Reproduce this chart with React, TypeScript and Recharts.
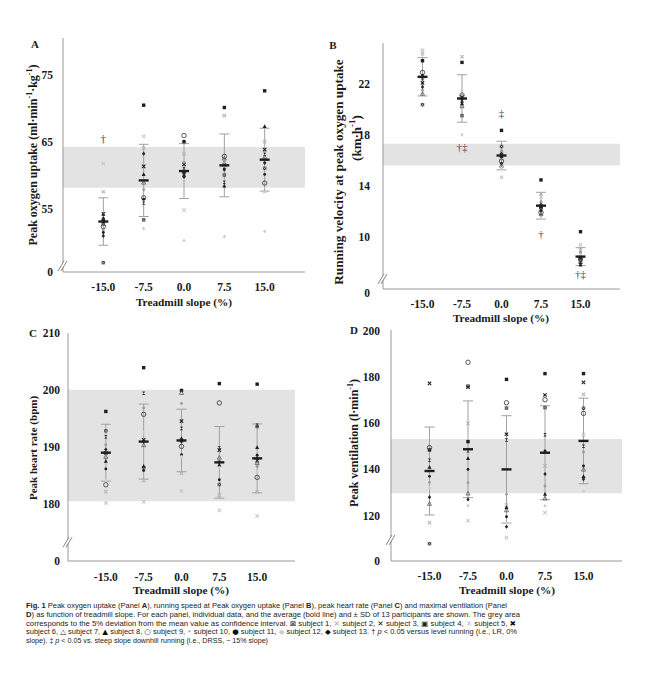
import React from "react";
import {
  ScatterChart,
  Scatter,
  XAxis,
  YAxis,
  ReferenceArea,
  ReferenceDot,
  ErrorBar,
} from "recharts";

const slopeLabels = ["-15.0", "-7.5", "0.0", "7.5", "15.0"];
const slopeIndex = [0, 1, 2, 3, 4];

// one row per subject (1..13), one column per slope
const vo2Subjects = [
  [47.0, 53.4, 60.4, 60.1, 61.1],
  [57.6, 64.15, 63.25, 69.0, 65.1],
  [54.3, 61.4, 61.7, 61.6, 63.9],
  [53.4, 70.55, 65.1, 70.2, 72.7],
  [61.8, 65.9, 54.85, 61.3, 57.6],
  [53.9, 55.9, 61.0, 59.0, 63.2],
  [52.8, 59.0, 60.8, 62.6, 62.8],
  [53.1, 60.2, 60.1, 58.5, 67.4],
  [52.4, 56.7, 66.0, 62.9, 58.9],
  [51.9, 57.9, 62.0, 62.1, 62.0],
  [51.5, 56.5, 59.8, 61.0, 60.2],
  [65.0, 52.1, 50.3, 50.9, 51.7],
  [51.0, 63.3, 60.5, 60.9, 61.9],
];
const vo2Mean = [53.15, 59.3, 60.7, 61.55, 62.4];
const vo2Sd = [3.55, 5.4, 4.1, 4.7, 4.7];
const vo2Band = [58.2, 64.3];
const vo2Ticks = [45.6, 55, 65, 75];
const vo2Top = 80.6;
const vo2Break = 46.5;
const vo2Notes = [{ x: 0, y: 65.57, t: "†" }];

const speedSubjects = [
  [20.41, 19.55, 17.13, 12.3, 8.2],
  [24.47, 24.16, 16.2, 13.41, 9.0],
  [22.11, 21.0, 16.5, 12.45, 8.4],
  [23.85, 23.72, 18.39, 14.51, 10.45],
  [24.69, 20.67, 14.72, 13.2, 9.42],
  [22.46, 20.8, 16.6, 12.6, 8.5],
  [21.28, 20.3, 15.64, 11.84, 8.1],
  [22.59, 20.49, 16.4, 12.4, 7.85],
  [22.93, 21.15, 15.98, 11.96, 8.3],
  [21.54, 21.3, 16.8, 12.8, 8.8],
  [22.7, 20.89, 16.3, 12.1, 8.45],
  [24.29, 18.05, 15.4, 11.49, 8.6],
  [21.8, 20.6, 15.8, 12.5, 7.95],
];
const speedMean = [22.59, 20.89, 16.42, 12.49, 8.5];
const speedSd = [1.5, 1.86, 1.12, 1.05, 0.7];
const speedBand = [15.64, 17.35];
const speedTicks = [5.96, 10, 14, 18, 22];
const speedTop = 25.24;
const speedBreak = 6.75;
const speedNotes = [
  { x: 1, y: 17.1, t: "†‡" },
  { x: 2, y: 19.79, t: "‡" },
  { x: 3, y: 10.26, t: "†" },
  { x: 4, y: 7.12, t: "†‡" },
];

const hrSubjects = [
  [192.8, 186.3, 191.1, 183.35, 193.55],
  [182.1, 184.05, 185.3, 181.5, 182.0],
  [188.9, 191.2, 194.5, 189.4, 187.55],
  [196.2, 203.9, 199.9, 201.1, 201.0],
  [180.1, 180.3, 182.2, 178.8, 177.8],
  [191.75, 199.4, 193.2, 189.8, 193.8],
  [188.25, 190.3, 199.5, 188.1, 187.15],
  [187.5, 186.6, 191.5, 186.8, 189.9],
  [183.3, 195.7, 190.05, 197.7, 184.6],
  [190.35, 196.8, 197.6, 187.6, 186.5],
  [186.1, 185.8, 188.6, 184.2, 188.5],
  [184.05, 192.5, 188.25, 186.3, 185.5],
  [189.5, 190.9, 190.9, 187.25, 187.95],
];
const hrMean = [188.95, 190.9, 191.1, 187.25, 187.95];
const hrSd = [5.0, 6.6, 5.5, 6.3, 6.05];
const hrBand = [180.4, 200];
const hrTicks = [169.9, 180, 190, 200, 210];
const hrTop = 210;
const hrBreak = 173.2;

const veSubjects = [
  [107.9, 176.0, 166.5, 166.7, 166.4],
  [117.0, 159.9, 124.6, 141.5, 172.45],
  [177.2, 175.5, 155.2, 172.15, 177.6],
  [148.4, 152.0, 178.9, 181.4, 181.4],
  [139.5, 117.8, 110.5, 121.3, 155.0],
  [144.0, 148.0, 152.7, 155.0, 150.0],
  [125.2, 129.65, 122.4, 127.5, 140.0],
  [141.0, 144.8, 123.6, 129.35, 137.0],
  [149.4, 186.3, 168.8, 170.1, 164.2],
  [134.4, 134.2, 129.2, 132.8, 147.5],
  [137.0, 140.0, 119.5, 148.0, 141.45],
  [132.0, 124.3, 116.7, 124.3, 130.6],
  [128.0, 127.0, 115.2, 138.0, 135.8],
];
const veMean = [139.3, 148.7, 140.0, 147.2, 152.3];
const veSd = [19.0, 20.9, 23.2, 20.3, 18.5];
const veBand = [129.65, 153.1];
const veTicks = [100.4, 120, 140, 160, 180, 200];
const veTop = 200.25;
const veBreak = 109.5;

const serif = "'Liberation Serif', 'Times New Roman', serif";
const sans = "'Liberation Sans', Arial, sans-serif";
const ink = "#1a1a1a";

// marker per subject, same order as the rows above
const markStyles = [
  { kind: "boxx", color: "#3a3a3a" },
  { kind: "cross", color: "#b5b5b5" },
  { kind: "cross", color: "#1f1f1f" },
  { kind: "box", color: "#1f1f1f" },
  { kind: "cross", color: "#c8c8c8" },
  { kind: "hourglass", color: "#2a2a2a" },
  { kind: "tri", color: "#5a5a5a" },
  { kind: "trifill", color: "#1f1f1f" },
  { kind: "ring", color: "#444" },
  { kind: "dot", color: "#9c9c9c" },
  { kind: "dot", color: "#1f1f1f" },
  { kind: "diamond", color: "#cfcfcf" },
  { kind: "diamond", color: "#262626" },
];

function Mark({ kind, color, cx, cy, r }: any) {
  switch (kind) {
    case "box":
      return <rect x={cx - r} y={cy - r} width={2 * r} height={2 * r} fill={color} />;
    case "boxx":
      return (
        <g>
          <rect x={cx - r} y={cy - r} width={2 * r} height={2 * r} fill={color} />
          <path
            d={`M${cx - r},${cy - r}L${cx + r},${cy + r}M${cx + r},${cy - r}L${cx - r},${cy + r}`}
            stroke="#ddd"
            strokeWidth={0.5}
          />
        </g>
      );
    case "cross":
      return (
        <path
          d={`M${cx - r},${cy - r}L${cx + r},${cy + r}M${cx + r},${cy - r}L${cx - r},${cy + r}`}
          stroke={color}
          strokeWidth={1.1}
        />
      );
    case "hourglass":
      return (
        <path
          d={`M${cx - r},${cy - r}L${cx + r},${cy - r}L${cx - r},${cy + r}L${cx + r},${cy + r}Z`}
          fill={color}
        />
      );
    case "tri":
      return (
        <path
          d={`M${cx},${cy - r * 1.2}L${cx + r * 1.2},${cy + r}L${cx - r * 1.2},${cy + r}Z`}
          fill="none"
          stroke={color}
          strokeWidth={0.8}
        />
      );
    case "trifill":
      return (
        <path
          d={`M${cx},${cy - r * 1.2}L${cx + r * 1.2},${cy + r}L${cx - r * 1.2},${cy + r}Z`}
          fill={color}
        />
      );
    case "ring":
      return <circle cx={cx} cy={cy} r={r * 1.3} fill="none" stroke={color} strokeWidth={0.9} />;
    case "dot":
      return <circle cx={cx} cy={cy} r={r * 0.85} fill={color} />;
    default:
      return (
        <path
          d={`M${cx},${cy - r * 1.2}L${cx + r},${cy}L${cx},${cy + r * 1.2}L${cx - r},${cy}Z`}
          fill={color}
        />
      );
  }
}

function BreakMark({ cx, cy }: any) {
  return (
    <g>
      <path d={`M${cx - 5},${cy + 5}L${cx + 1},${cy - 5}L${cx + 4},${cy - 5}L${cx - 2},${cy + 5}Z`} fill="#fff" />
      <path
        d={`M${cx - 5},${cy + 5}L${cx + 1},${cy - 5}M${cx - 2},${cy + 5}L${cx + 4},${cy - 5}`}
        stroke="#777"
        strokeWidth={0.9}
      />
    </g>
  );
}

type Box = { left: number; right: number; top: number; bottom: number; yw: number; yGap: number; xGap: number; zeroDy: number };

function Panel({ subjects, mean, sd, band, ticks, top, brk, notes, box }: any) {
  const b: Box = box;
  const points = subjects.flatMap((row: number[], s: number) =>
    row.map((v, i) => ({ x: slopeIndex[i], y: v, s }))
  );
  const means = mean.map((m: number, i: number) => ({ x: slopeIndex[i], y: m, sd: sd[i] }));
  const tickStyle = { fill: ink, fontSize: 11.5, fontWeight: 700, fontFamily: serif };
  const YTick = (p: any) => {
    const isZero = p.payload.value === ticks[0];
    return (
      <text {...tickStyle} x={p.x} y={p.y + (isZero ? b.zeroDy : 0)} textAnchor="end" dominantBaseline="central">
        {isZero ? "0" : String(p.payload.value)}
      </text>
    );
  };
  return (
    <div style={{ position: "absolute", left: 0, top: 0 }}>
      <ScatterChart
        width={650}
        height={676}
        margin={{ top: b.top, left: b.left - b.yw, right: 650 - b.right, bottom: 676 - b.bottom - 30 }}
      >
        <XAxis
          type="number"
          dataKey="x"
          domain={[-1, 5]}
          ticks={slopeIndex}
          tickFormatter={(i: number) => slopeLabels[i]}
          interval={0}
          tickLine={false}
          tickSize={0}
          tickMargin={b.xGap}
          height={30}
          axisLine={{ stroke: "#999" }}
          tick={tickStyle}
        />
        <YAxis
          type="number"
          dataKey="y"
          domain={[ticks[0], top]}
          ticks={ticks}
          interval={0}
          width={b.yw}
          tickLine={false}
          tickSize={0}
          tickMargin={b.yGap}
          axisLine={{ stroke: "#999" }}
          tick={YTick}
        />
        <ReferenceArea y1={band[0]} y2={band[1]} fill="#e3e3e3" fillOpacity={1} stroke="none" ifOverflow="visible" />
        <Scatter data={means} isAnimationActive={false} shape={() => <g />}>
          <ErrorBar dataKey="sd" direction="y" width={5} stroke="#a0a0a0" strokeWidth={1} isAnimationActive={false} />
        </Scatter>
        <Scatter
          data={points}
          isAnimationActive={false}
          shape={(p: any) => <Mark {...markStyles[p.payload.s]} cx={p.cx} cy={p.cy} r={1.7} />}
        />
        <Scatter
          data={means}
          isAnimationActive={false}
          shape={(p: any) => <rect x={p.cx - 5} y={p.cy - 1.2} width={10} height={2.4} fill="#1e1e1e" />}
        />
        {notes && (
          <Scatter
            data={notes}
            isAnimationActive={false}
            shape={(p: any) => (
              <text
                x={p.cx}
                y={p.cy}
                textAnchor="middle"
                dominantBaseline="central"
                fontSize={11}
                fontFamily={serif}
                fill="#444"
              >
                {p.payload.t}
              </text>
            )}
          />
        )}
        <ReferenceDot x={-1} y={brk} ifOverflow="visible" shape={(p: any) => <BreakMark cx={p.cx} cy={p.cy} />} />
      </ScatterChart>
    </div>
  );
}

function VTitle({ x, y, size, children }: any) {
  return (
    <text
      transform={`translate(${x},${y}) rotate(-90)`}
      textAnchor="middle"
      dominantBaseline="central"
      fontFamily={serif}
      fontWeight={700}
      fontSize={size}
      fill={ink}
    >
      {children}
    </text>
  );
}

function HTitle({ x, y, size = 11.3, children }: any) {
  return (
    <text x={x} y={y} textAnchor="middle" dominantBaseline="central" fontFamily={serif} fontWeight={700} fontSize={size} fill={ink}>
      {children}
    </text>
  );
}

const sym = { fontFamily: "'DejaVu Sans', sans-serif" };

export default function App() {
  return (
    <div style={{ position: "absolute", left: 0, top: 0, width: 650, height: 676, background: "#fff", overflow: "hidden" }}>
      <Panel
        subjects={vo2Subjects}
        mean={vo2Mean}
        sd={vo2Sd}
        band={vo2Band}
        ticks={vo2Ticks}
        top={vo2Top}
        brk={vo2Break}
        notes={vo2Notes}
        box={{ left: 63, right: 305, top: 38, bottom: 272, yw: 63, yGap: 10, xGap: 11, zeroDy: 0 }}
      />
      <Panel
        subjects={speedSubjects}
        mean={speedMean}
        sd={speedSd}
        band={speedBand}
        ticks={speedTicks}
        top={speedTop}
        brk={speedBreak}
        notes={speedNotes}
        box={{ left: 383, right: 620, top: 43, bottom: 289, yw: 63, yGap: 13, xGap: 11, zeroDy: 4 }}
      />
      <Panel
        subjects={hrSubjects}
        mean={hrMean}
        sd={hrSd}
        band={hrBand}
        ticks={hrTicks}
        top={hrTop}
        brk={hrBreak}
        box={{ left: 68, right: 295, top: 333, bottom: 561, yw: 68, yGap: 8, xGap: 12, zeroDy: 0 }}
      />
      <Panel
        subjects={veSubjects}
        mean={veMean}
        sd={veSd}
        band={veBand}
        ticks={veTicks}
        top={veTop}
        brk={veBreak}
        box={{ left: 391, right: 622, top: 330, bottom: 561, yw: 71, yGap: 11, xGap: 11, zeroDy: 0 }}
      />
      <svg width={650} height={676} style={{ position: "absolute", left: 0, top: 0, pointerEvents: "none" }}>
        <HTitle x={35} y={44} size={11}>A</HTitle>
        <HTitle x={333} y={45} size={11}>B</HTitle>
        <HTitle x={33} y={333} size={11}>C</HTitle>
        <HTitle x={354} y={330} size={11}>D</HTitle>

        <VTitle x={33} y={155} size={12}>
          Peak oxygen uptake (ml·min<tspan dy={-4} fontSize={8}>-1</tspan>
          <tspan dy={4}>·kg</tspan>
          <tspan dy={-4} fontSize={8}>-1</tspan>
          <tspan dy={4}>)</tspan>
        </VTitle>
        <VTitle x={338} y={172} size={13.2}>Running velocity at peak oxygen uptake</VTitle>
        <VTitle x={356} y={138} size={13}>
          (km·h<tspan dy={-4} fontSize={9}>-1</tspan>
          <tspan dy={4}>)</tspan>
        </VTitle>
        <VTitle x={33} y={448} size={11}>Peak heart rate (bpm)</VTitle>
        <VTitle x={354} y={443} size={12}>
          Peak ventilation (l·min<tspan dy={-4} fontSize={8}>-1</tspan>
          <tspan dy={4}>)</tspan>
        </VTitle>

        <HTitle x={184} y={302}>Treadmill slope (%)</HTitle>
        <HTitle x={501} y={318}>Treadmill slope (%)</HTitle>
        <HTitle x={181} y={590}>Treadmill slope (%)</HTitle>
        <HTitle x={507} y={590}>Treadmill slope (%)</HTitle>

        <g fontFamily={sans} fontSize={7.2} fill="#222">
          <text x={26} y={608} textLength={481} lengthAdjust="spacingAndGlyphs">
            <tspan fontWeight={700}>Fig. 1</tspan> Peak oxygen uptake (Panel <tspan fontWeight={700}>A</tspan>), running
            speed at Peak oxygen uptake (Panel <tspan fontWeight={700}>B</tspan>), peak heart rate (Panel{" "}
            <tspan fontWeight={700}>C</tspan>) and maximal ventilation (Panel
          </text>
          <text x={26} y={617} textLength={494} lengthAdjust="spacingAndGlyphs">
            <tspan fontWeight={700}>D</tspan>) as function of treadmill slope. For each panel, individual data, and the
            average (bold line) and ± SD of 13 participants are shown. The grey area
          </text>
          <text x={26} y={625.5} textLength={490} lengthAdjust="spacingAndGlyphs">
            corresponds to the 5% deviation from the mean value as confidence interval.{" "}
            <tspan {...sym} fill="#222">⊠</tspan> subject 1, <tspan {...sym} fill="#aaa">✕</tspan> subject 2,{" "}
            <tspan {...sym} fill="#111">✕</tspan> subject 3, <tspan {...sym} fill="#222">▣</tspan> subject 4,{" "}
            <tspan {...sym} fill="#bbb">✕</tspan> subject 5, <tspan {...sym} fill="#111">✖</tspan>
          </text>
          <text x={26} y={634} textLength={491} lengthAdjust="spacingAndGlyphs">
            subject 6, <tspan {...sym} fill="#222">△</tspan> subject 7, <tspan {...sym} fill="#111">▲</tspan> subject 8,{" "}
            <tspan {...sym} fill="#222">○</tspan> subject 9, <tspan {...sym} fill="#aaa">•</tspan> subject 10,{" "}
            <tspan {...sym} fill="#111">●</tspan> subject 11, <tspan {...sym} fill="#ccc">◆</tspan> subject 12,{" "}
            <tspan {...sym} fill="#111">◆</tspan> subject 13. † <tspan fontStyle="italic">p</tspan> {"<"} 0.05 versus
            level running (i.e., LR, 0%
          </text>
          <text x={26} y={642.5} textLength={242} lengthAdjust="spacingAndGlyphs">
            slope). ‡ <tspan fontStyle="italic">p</tspan> {"<"} 0.05 vs. steep slope downhill running (i.e., DRSS, − 15%
            slope)
          </text>
        </g>
      </svg>
    </div>
  );
}
